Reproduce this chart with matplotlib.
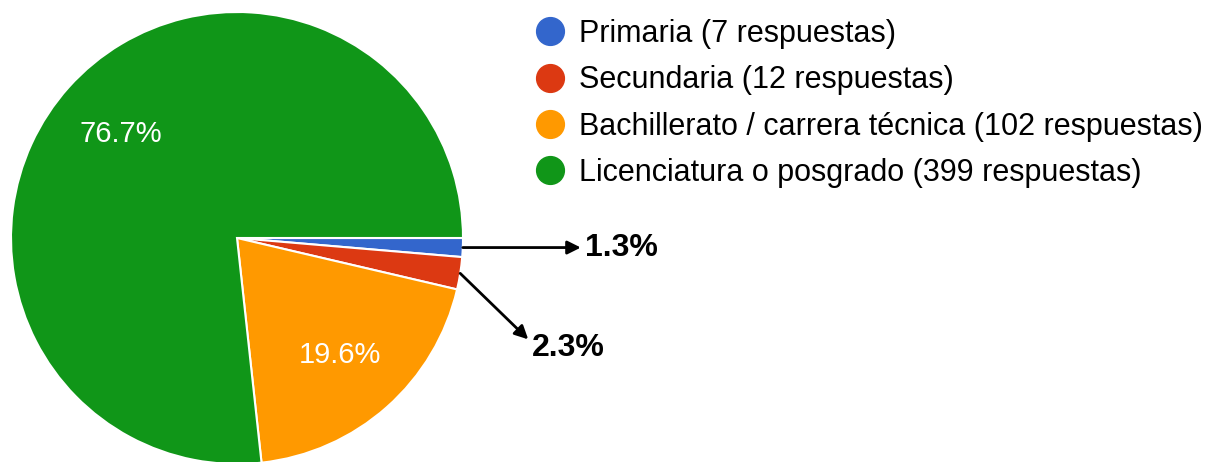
import matplotlib
matplotlib.use("Agg")
import matplotlib.pyplot as plt
from matplotlib.lines import Line2D
import numpy as np

categories = ["Primaria", "Secundaria", "Bachillerato / carrera técnica", "Licenciatura o posgrado"]
counts = [7, 12, 102, 399]
colors = ["#3366CC", "#DC3912", "#FF9900", "#109618"]
legend_labels = [f"{c} ({n} respuestas)" for c, n in zip(categories, counts)]

W, H = 1205, 462
fig = plt.figure(figsize=(W / 100, H / 100), dpi=100)
ax = fig.add_axes([0, 0, 1, 1])

cx, cy, R = 237, H - 238, 226
total = sum(counts)

def pct(p):
    return f"{p:.1f}%" if p > 5 else ""

wedges, texts, autotexts = ax.pie(
    counts, colors=colors, startangle=0, counterclock=False,
    center=(cx, cy), radius=R, autopct=pct, pctdistance=0.69,
    wedgeprops=dict(edgecolor="white", linewidth=1.5),
    textprops=dict(color="white", fontsize=21, family="Liberation Sans"),
)
ax.set_xlim(0, W)
ax.set_ylim(0, H)
ax.set_aspect("equal")
ax.axis("off")

# callouts for small slices
offsets = [(118, 0), (68, -66)]
for i, (dx, dy) in enumerate(offsets):
    w = wedges[i]
    ang = np.deg2rad((w.theta1 + w.theta2) / 2)
    x0 = cx + R * np.cos(ang)
    y0 = cy + R * np.sin(ang)
    p = counts[i] / total * 100
    ax.annotate("", xy=(x0 + dx, y0 + dy), xytext=(x0, y0),
                arrowprops=dict(arrowstyle="-|>", color="black", lw=2,
                                mutation_scale=20, shrinkA=0, shrinkB=0))
    ty = y0 + dy if i == 0 else y0 + dy - 9
    ax.text(x0 + dx + 4, ty, f"{p:.1f}%", fontsize=23, fontweight="bold",
            family="Liberation Sans", color="black", va="center", ha="left")

handles = [Line2D([], [], marker="o", linestyle="none", markersize=20,
                  markerfacecolor=c, markeredgecolor=c) for c in colors]
ax.legend(handles, legend_labels, loc="upper left",
          bbox_to_anchor=(535 / W, 1 - 19 / H), frameon=False,
          prop=dict(family="Liberation Sans", size=22),
          handlelength=1.0, handletextpad=0.44, labelspacing=0.535,
          borderpad=0, borderaxespad=0)

fig.savefig("out.png", dpi=100)
